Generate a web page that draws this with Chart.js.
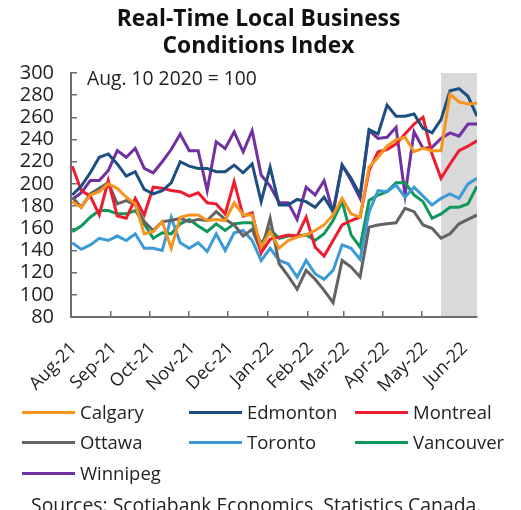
<!DOCTYPE html>
<html>
<head>
<meta charset="utf-8">
<script src="https://cdn.jsdelivr.net/npm/chart.js@4/dist/chart.umd.min.js"></script>
<style>
  body { margin: 0; background: #fff; }
  #wrap { position: relative; width: 521px; height: 510px; overflow: hidden; font-family: "Open Sans", sans-serif; color: #222; }
  #chart { position: absolute; left: 0; top: 0; }
  #title { position: absolute; left: 0; width: 517px; top: 4px; text-align: center; font-size: 22.8px; font-weight: bold; line-height: 27px; color: #111; }
  #note { position: absolute; left: 87px; top: 64px; font-size: 19.3px; white-space: nowrap; }
  .leg { position: absolute; height: 24px; font-size: 18.5px; line-height: 24px; white-space: nowrap; }
  .leg i { position: absolute; left: 0; top: 10.5px; width: 53px; height: 3px; }
  .leg span { position: absolute; left: 58px; top: 0; }
  #src { position: absolute; left: 31px; top: 491px; font-size: 19.4px; white-space: nowrap; }
</style>
</head>
<body>
<div id="wrap">
  <canvas id="chart" width="521" height="510"></canvas>
  <div id="title">Real-Time Local Business<br>Conditions Index</div>
  <div id="note">Aug. 10 2020 = 100</div>
  <div id="legend"></div>
  <div id="src">Sources: Scotiabank Economics, Statistics Canada.</div>
</div>
<script>
// weekly observations (Mondays)
const weeks = [
  '2021-08-02', '2021-08-09', '2021-08-16', '2021-08-23', '2021-08-30',
  '2021-09-06', '2021-09-13', '2021-09-20', '2021-09-27',
  '2021-10-04', '2021-10-11', '2021-10-18', '2021-10-25',
  '2021-11-01', '2021-11-08', '2021-11-15', '2021-11-22', '2021-11-29',
  '2021-12-06', '2021-12-13', '2021-12-20', '2021-12-27',
  '2022-01-03', '2022-01-10', '2022-01-17', '2022-01-24', '2022-01-31',
  '2022-02-07', '2022-02-14', '2022-02-21', '2022-02-28',
  '2022-03-07', '2022-03-14', '2022-03-21', '2022-03-28',
  '2022-04-04', '2022-04-11', '2022-04-18', '2022-04-25',
  '2022-05-02', '2022-05-09', '2022-05-16', '2022-05-23', '2022-05-30',
  '2022-06-06', '2022-06-13'
];

const calgary   = [184,179,190,193,200,196,188,182,155,157,166,142,170,172,172,167,168,167,183,172,172,143,157,142,149,152,154,158,163,172,187,173,170,215,224,234,240,242,229,232,230,230,281,274,272,273];
const edmonton  = [190,198,210,224,227,218,207,211,195,191,194,201,220,216,214,214,211,211,217,210,218,184,215,181,181,186,184,179,188,175,217,205,190,249,245,271,261,261,263,250,246,258,284,286,279,261];
const montreal  = [216,194,189,172,203,171,169,187,172,197,196,194,193,189,192,183,182,173,202,171,174,138,150,152,154,153,170,143,135,149,163,167,170,212,229,231,236,245,254,260,227,205,218,230,234,239];
const ottawa    = [188,179,191,196,201,182,185,181,166,158,166,167,169,166,168,167,175,168,163,153,159,139,169,128,117,105,122,114,104,93,131,125,116,161,163,164,165,178,175,163,160,151,155,164,168,172];
const toronto   = [147,141,145,151,149,153,149,155,142,142,140,170,147,142,147,139,155,140,156,158,149,131,142,131,128,116,131,119,114,122,145,142,132,175,194,193,199,188,197,189,181,187,191,187,200,205];
const vancouver = [157,162,170,176,176,173,173,176,164,151,156,155,164,168,162,157,164,158,164,165,165,146,159,151,153,153,154,149,155,167,184,154,143,185,190,193,201,201,190,184,169,173,179,179,182,198];
const winnipeg  = [186,192,203,203,212,230,224,232,214,210,220,231,245,230,230,194,238,232,247,229,248,208,198,183,183,168,197,190,203,174,217,203,187,248,241,242,251,190,247,232,233,241,246,243,254,254];

const cities = ['Calgary', 'Edmonton', 'Montreal', 'Ottawa', 'Toronto', 'Vancouver', 'Winnipeg'];
const colors = ['#f7941d', '#1c4f80', '#ed1c2e', '#636363', '#3d9ad5', '#10985a', '#7131a3'];

const monthStarts = ['2021-08-01', '2021-09-01', '2021-10-01', '2021-11-01', '2021-12-01', '2022-01-01',
                     '2022-02-01', '2022-03-01', '2022-04-01', '2022-05-01', '2022-06-01'];
const monthLabels = ['Aug-21', 'Sep-21', 'Oct-21', 'Nov-21', 'Dec-21', 'Jan-22',
                     'Feb-22', 'Mar-22', 'Apr-22', 'May-22', 'Jun-22'];
const shadeFrom = '2022-05-16';

const yMin = 80, yMax = 300, yStep = 20;

// dates -> day number from Aug 1 2021
const origin = Date.parse(monthStarts[0]);
const toDay = s => (Date.parse(s) - origin) / 86400000;
const xs = weeks.map(toDay);
const tickDays = monthStarts.map(toDay);

const series = [calgary, edmonton, montreal, ottawa, toronto, vancouver, winnipeg];
const FONT = '"Open Sans", sans-serif';
const AXIS = '#6e6e6e';

// grey box for the latest weeks
const shadePlugin = {
  id: 'shade',
  beforeDatasetsDraw(chart) {
    const { ctx, chartArea: a, scales: { x } } = chart;
    const x0 = x.getPixelForValue(toDay(shadeFrom));
    ctx.save();
    ctx.fillStyle = '#d9d9d9';
    ctx.fillRect(x0, a.top, a.right - x0, a.bottom - a.top - 1);
    ctx.restore();
  }
};

const chart = new Chart(document.getElementById('chart'), {
  type: 'line',
  data: {
    datasets: series.map((vals, i) => ({
      label: cities[i],
      data: vals.map((v, j) => ({ x: xs[j], y: v })),
      borderColor: colors[i],
      backgroundColor: colors[i],
      borderWidth: 3,
      pointRadius: 0,
      tension: 0,
      fill: false
    }))
  },
  options: {
    responsive: false,
    animation: false,
    events: [],
    layout: { padding: { left: 0, right: 44, top: 73, bottom: 113 } },
    plugins: {
      legend: { display: false },
      tooltip: { enabled: false },
      title: { display: false }
    },
    scales: {
      x: {
        type: 'linear',
        min: 0,
        max: xs[xs.length - 1],
        afterFit: s => { s.height = 80; },
        afterBuildTicks: s => { s.ticks = tickDays.map(v => ({ value: v })); },
        grid: { drawOnChartArea: false, drawTicks: true, tickLength: -6, color: AXIS, lineWidth: 1.5 },
        border: { display: true, color: AXIS, width: 2 },
        ticks: {
          autoSkip: false,
          minRotation: 45,
          maxRotation: 45,
          padding: 27,
          labelOffset: 3,
          color: '#222',
          font: { family: FONT, size: 18 },
          callback: (v, i) => monthLabels[i]
        }
      },
      y: {
        min: yMin,
        max: yMax,
        afterFit: s => { s.width = 71; },
        grid: { drawOnChartArea: false, drawTicks: true, tickLength: -6, color: AXIS, lineWidth: 1.5 },
        border: { display: true, color: AXIS, width: 2 },
        ticks: {
          autoSkip: false,
          stepSize: yStep,
          padding: 23,
          color: '#222',
          font: { family: FONT, size: 20 }
        }
      }
    }
  },
  plugins: [shadePlugin]
});

// legend in three columns, built from the datasets
const colX = [22, 189, 355];
const rowY = [400, 430, 461];
document.getElementById('legend').innerHTML = chart.data.datasets.map((d, i) =>
  `<div class="leg" style="left:${colX[i % 3]}px;top:${rowY[Math.floor(i / 3)]}px">` +
  `<i style="background:${d.borderColor}"></i><span>${d.label}</span></div>`
).join('');
</script>
</body>
</html>
